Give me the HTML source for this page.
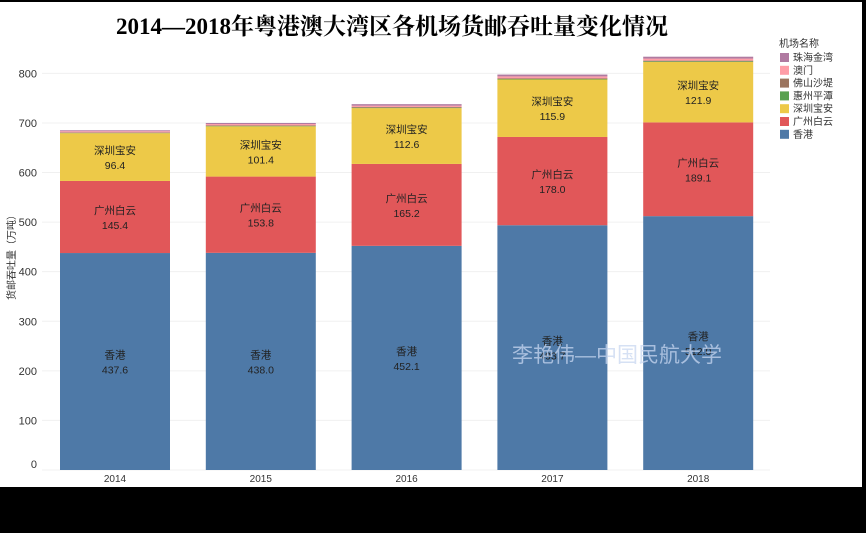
<!DOCTYPE html>
<html><head><meta charset="utf-8"><style>
body{margin:0;background:#fff;width:866px;height:533px;overflow:hidden;position:relative;font-family:"Liberation Sans","Noto Sans CJK SC",sans-serif}
#title{position:absolute;left:0;width:784px;top:8px;text-align:center;font:bold 23px "Liberation Serif","Noto Serif CJK SC",serif;color:#000}
#bottom{position:absolute;left:0;top:487px;width:866px;height:46px;background:#000}
#topline{position:absolute;left:0;top:0;width:866px;height:2px;background:#000}
#rline{position:absolute;left:862px;top:0;width:4px;height:533px;background:#000}
</style></head><body>
<div id="topline"></div>
<div id="title">2014—2018年粤港澳大湾区各机场货邮吞吐量变化情况</div>
<svg id="chart" width="866" height="533" style="position:absolute;left:0;top:0"></svg>
<div id="bottom"></div>
<div id="rline"></div>
<script>
const years=["2014","2015","2016","2017","2018"];
const hongkong=[437.6,438.0,452.1,493.7,512.0];
const guangzhou=[145.4,153.8,165.2,178.0,189.1];
const shenzhen=[96.4,101.4,112.6,115.9,121.9];
const huizhou=[0.5,0.6,0.8,1.0,1.2];
const foshan=[1.2,1.4,1.5,1.6,1.5];
const macau=[2.2,2.6,2.6,3.7,4.1];
const zhuhai=[1.9,2.1,3.1,3.7,3.8];
const yTicks=[0,100,200,300,400,500,600,700,800];
const seriesNames=["香港","广州白云","深圳宝安","惠州平潭","佛山沙堤","澳门","珠海金湾"];
const series=[hongkong,guangzhou,shenzhen,huizhou,foshan,macau,zhuhai];
const colors=["#4e79a7","#e15759","#edc948","#59a14f","#9c755f","#ff9da7","#b07aa1"];
const NS="http://www.w3.org/2000/svg";
const svg=document.getElementById('chart');
const y=v=>470-v*0.4958;
const x=i=>60+i*145.8;
const bw=110;
function mk(t,a,txt){const e=document.createElementNS(NS,t);for(const k in a)e.setAttribute(k,a[k]);if(txt!=null)e.textContent=txt;svg.appendChild(e);return e;}
yTicks.forEach(t=>{
  const g=mk('line',{x1:42,x2:770,y1:y(t),y2:y(t),stroke:'#f0f0f0'});
  
  
  const l=mk('text',{x:37,y:(t===0?y(t)-2:y(t)+4),'text-anchor':'end','font-size':11,fill:'#333'},t);
  
  
});
const yt=mk('text',{x:0,y:0,transform:'translate(15,255) rotate(-90)','text-anchor':'middle','font-size':10,fill:'#333'},'货邮吞吐量（万吨）');


years.forEach((yr,i)=>{
  let base=0;
  series.forEach((s,k)=>{
    const v=s[i];
    const r=mk('rect',{x:x(i),y:y(base+v),width:bw,height:y(base)-y(base+v),fill:colors[k]});
    
    
    if(k<3){
      const cy=(y(base)+y(base+v))/2;
      const a=mk('text',{x:x(i)+bw/2,y:cy-3,'text-anchor':'middle','font-size':10.5,fill:'#222'},seriesNames[k]);
      
      
      const b=mk('text',{x:x(i)+bw/2,y:cy+12,'text-anchor':'middle','font-size':10.5,fill:'#222'},v.toFixed(1));
      
      
    }
    base+=v;
  });
  const xl=mk('text',{x:x(i)+bw/2,y:482,'text-anchor':'middle','font-size':10,fill:'#333'},yr);
  
  
});
const lt=mk('text',{x:779,y:47,'font-size':10,fill:'#333'},'机场名称');


for(let k=6;k>=0;k--){
  const j=6-k;
  const sw=mk('rect',{x:780,y:53+j*12.8,width:9,height:9,fill:colors[k]});
  
  
  const tx=mk('text',{x:793,y:61+j*12.8,'font-size':10,fill:'#333'},seriesNames[k]);
  
  
}
const wm=mk('text',{x:512,y:362,'font-size':21,fill:'rgba(200,215,240,0.75)'},'李艳伟—中国民航大学');


</script>
</body></html>
